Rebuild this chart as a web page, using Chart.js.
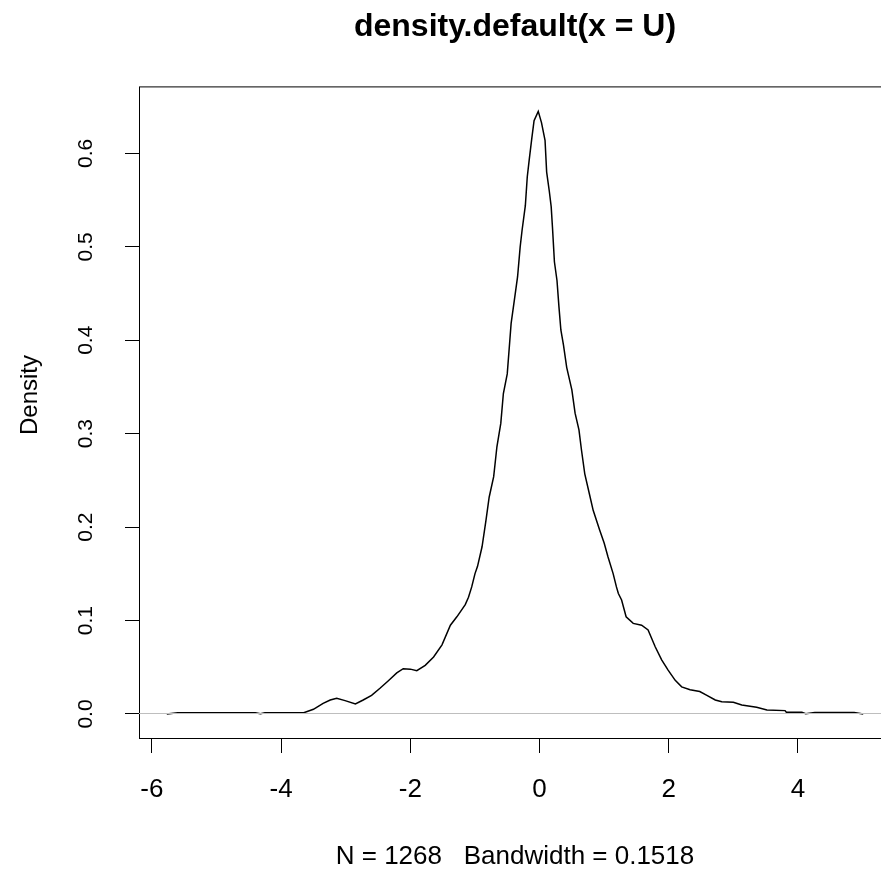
<!DOCTYPE html>
<html>
<head>
<meta charset="utf-8">
<script src="https://cdn.jsdelivr.net/npm/chart.js@4.4.1/dist/chart.umd.min.js"></script>
<style>
  html, body { margin: 0; padding: 0; background: #fff; overflow: hidden; }
  #wrap { width: 881px; height: 872px; overflow: hidden; }
</style>
</head>
<body>
<div id="wrap"><canvas id="densityChart" width="1030" height="872"></canvas></div>
<script>
// density estimate
const densityX = [
  -5.77, -5.6, -4.4, -4.32, -4.25, -3.65, -3.5, -3.35, -3.24, -3.14,
  -3.01, -2.85, -2.73, -2.6, -2.47, -2.34, -2.21, -2.11, -2.0, -1.9,
  -1.77, -1.64, -1.51, -1.38, -1.28, -1.15, -1.1, -1.05, -1.0, -0.96,
  -0.89, -0.83, -0.78, -0.71, -0.66, -0.6, -0.56, -0.5, -0.46, -0.44,
  -0.39, -0.34, -0.3, -0.27, -0.22, -0.19, -0.16, -0.12, -0.085, -0.02,
  0.03, 0.085, 0.11, 0.15, 0.18, 0.2, 0.23, 0.27, 0.3, 0.33,
  0.37, 0.42, 0.5, 0.55, 0.61, 0.65, 0.7, 0.77, 0.83, 0.93,
  1.0, 1.06, 1.14, 1.19, 1.22, 1.27, 1.34, 1.45, 1.58, 1.68,
  1.79, 1.89, 1.99, 2.1, 2.2, 2.33, 2.48, 2.59, 2.72, 2.82,
  3.0, 3.13, 3.36, 3.52, 3.8, 3.82, 4.06, 4.12, 4.26, 4.87, 5.01,
];
const densityY = [
  0, 0.0014, 0.0014, 0.0003, 0.0014, 0.0014, 0.005, 0.0114, 0.015, 0.0168,
  0.0143, 0.0107, 0.015, 0.02, 0.0275, 0.0356, 0.044, 0.0485, 0.048, 0.0463,
  0.052, 0.061, 0.074, 0.095, 0.104, 0.117, 0.125, 0.136, 0.15, 0.158,
  0.179, 0.207, 0.232, 0.254, 0.286, 0.311, 0.343, 0.364, 0.4, 0.418,
  0.443, 0.468, 0.5, 0.518, 0.544, 0.575, 0.593, 0.616, 0.635, 0.645,
  0.633, 0.614, 0.58, 0.56, 0.543, 0.521, 0.484, 0.464, 0.436, 0.411,
  0.395, 0.371, 0.347, 0.322, 0.304, 0.282, 0.257, 0.236, 0.218, 0.197,
  0.183, 0.168, 0.15, 0.136, 0.129, 0.122, 0.104, 0.097, 0.095, 0.09,
  0.072, 0.058, 0.047, 0.036, 0.029, 0.026, 0.024, 0.02, 0.015, 0.013,
  0.0125, 0.0096, 0.0071, 0.0043, 0.0036, 0.0018, 0.0018, 0.0003, 0.0015, 0.0015, 0,
];
const xTicks = [-6, -4, -2, 0, 2, 4];
const yTicks = [0, 0.1, 0.2, 0.3, 0.4, 0.5, 0.6];

const titleText = "density.default(x = U)";
const xLabel = "N = 1268   Bandwidth = 0.1518";
const yLabel = "Density";

const FONT = "'Liberation Sans', Arial, Helvetica, sans-serif";

const plotBox = {
  id: "plotBox",
  afterDatasetsDraw(chart) {
    const { ctx, chartArea: a } = chart;
    ctx.save();
    ctx.strokeStyle = "#000";
    ctx.lineWidth = 1;
    ctx.strokeRect(a.left + 0.5, a.top + 0.5, a.right - a.left, a.bottom - a.top);
    ctx.restore();
  },
};

const yAxisLabel = {
  id: "yAxisLabel",
  afterDraw(chart) {
    const ctx = chart.ctx;
    ctx.save();
    ctx.translate(30, 395);
    ctx.rotate(-Math.PI / 2);
    ctx.fillStyle = "#000";
    ctx.font = "24px " + FONT;
    ctx.textAlign = "center";
    ctx.textBaseline = "middle";
    ctx.fillText(yLabel, 0, 0);
    ctx.restore();
  },
};

const points = densityX.map((x, i) => ({ x, y: densityY[i] }));

new Chart(document.getElementById("densityChart"), {
  type: "line",
  data: {
    datasets: [
      {
        data: points,
        borderColor: "#000",
        borderWidth: 1.5,
        pointRadius: 0,
        tension: 0,
        fill: false,
      },
    ],
  },
  options: {
    responsive: false,
    animation: false,
    layout: { padding: 0 },
    plugins: {
      legend: { display: false },
      tooltip: { enabled: false },
      title: {
        display: true,
        text: titleText,
        color: "#000",
        font: { family: FONT, size: 32, weight: "bold" },
        padding: { top: 8, bottom: 40 },
      },
    },
    scales: {
      x: {
        type: "linear",
        min: -6.2,
        max: 5.44,
        afterBuildTicks: (scale) => {
          scale.ticks = xTicks.map((v) => ({ value: v }));
        },
        afterFit: (scale) => {
          scale.height = 134;
        },
        border: { display: false },
        grid: {
          drawOnChartArea: false,
          tickLength: 15,
          tickColor: "#000",
          tickWidth: 1,
        },
        ticks: {
          color: "#000",
          padding: 21,
          maxRotation: 0,
          font: { family: FONT, size: 26 },
          callback: (v) => String(v),
        },
        title: {
          display: true,
          text: xLabel,
          color: "#000",
          font: { family: FONT, size: 26 },
          padding: { top: 0, bottom: 0 },
        },
      },
      y: {
        type: "linear",
        min: -0.0257,
        max: 0.6717,
        afterBuildTicks: (scale) => {
          scale.ticks = yTicks.map((v) => ({ value: v }));
        },
        afterFit: (scale) => {
          scale.width = 139;
        },
        border: { display: false },
        grid: {
          z: 1,
          tickLength: 14,
          tickColor: "#000",
          tickWidth: 1,
          lineWidth: 1,
          color: (c) => (c.tick && c.tick.value === 0 ? "#bebebe" : "rgba(0,0,0,0)"),
        },
        ticks: {
          color: "#000",
          minRotation: 90,
          maxRotation: 90,
          crossAlign: "center",
          padding: 24,
          font: { family: FONT, size: 21 },
          callback: (v) => Number(v).toFixed(1),
        },
      },
      y2: {
        type: "linear",
        position: "right",
        display: true,
        afterFit: (scale) => {
          scale.width = 139;
        },
        border: { display: false },
        grid: { display: false },
        ticks: { display: false },
      },
    },
  },
  plugins: [plotBox, yAxisLabel],
});
</script>
</body>
</html>
